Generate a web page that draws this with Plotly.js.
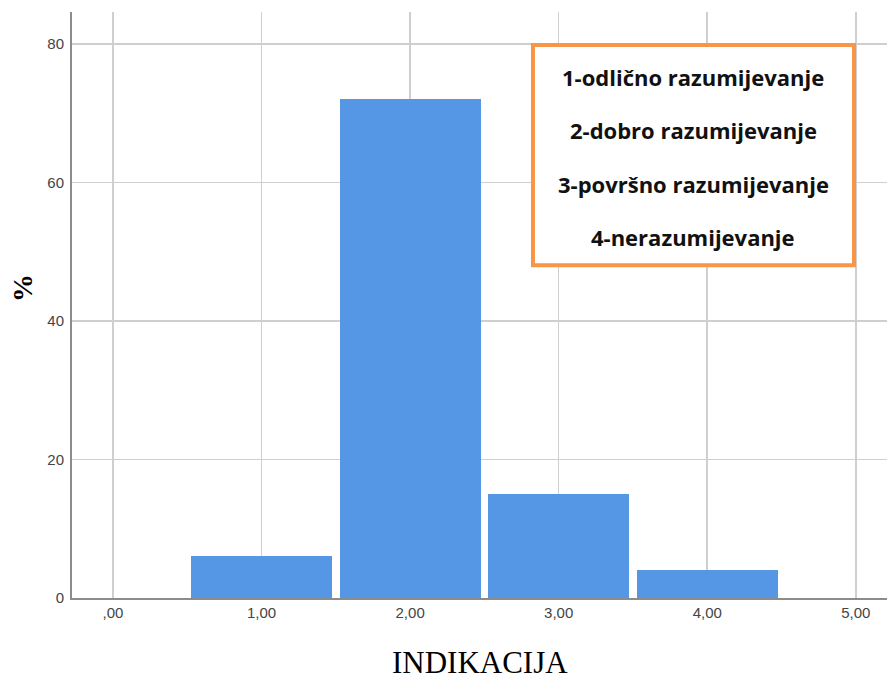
<!DOCTYPE html>
<html>
<head>
<meta charset="utf-8">
<script src="https://cdn.plot.ly/plotly-3.0.1.min.js"></script>
<style>html,body{margin:0;padding:0;background:#fff;}#chart{width:887px;height:681px;}</style>
</head>
<body>
<div id="chart"></div>
<script>
const categories = [1, 2, 3, 4];
const percentValues = [6, 72, 15, 4];
const xTickVals = [0, 1, 2, 3, 4, 5];
const xTickText = [',00', '1,00', '2,00', '3,00', '4,00', '5,00'];
const yTickVals = [0, 20, 40, 60, 80];
const legendLines = ['1-odlično razumijevanje', '2-dobro razumijevanje', '3-površno razumijevanje', '4-nerazumijevanje'];
const xTitle = 'INDIKACIJA';
const yTitle = '%';

const trace = {
  type: 'bar',
  x: categories,
  y: percentValues,
  width: 0.95,
  marker: {color: '#5596E5', line: {width: 0}},
  hoverinfo: 'x+y'
};

const lineY = [0.889, 0.7986, 0.7065, 0.616];
const annotations = legendLines.map((t, i) => ({
  xref: 'paper', yref: 'paper', x: 0.762, y: lineY[i],
  xanchor: 'center', yanchor: 'middle', showarrow: false,
  text: '<b>' + t + '</b>',
  font: {family: 'Open Sans, Lato, sans-serif', size: 22, color: '#111'}
}));
annotations.push({
  xref: 'paper', yref: 'paper', x: 0.501, y: -0.1100,
  xanchor: 'center', yanchor: 'middle', showarrow: false,
  text: xTitle,
  font: {family: 'Liberation Serif, Times New Roman, serif', size: 31, color: '#000'}
});
annotations.push({
  xref: 'paper', yref: 'paper', x: -0.0613, y: 0.529,
  xanchor: 'center', yanchor: 'middle', showarrow: false, textangle: -90,
  text: '<b>' + yTitle + '</b>',
  font: {family: 'Liberation Serif, Times New Roman, serif', size: 28, color: '#000'}
});

const layout = {
  width: 887, height: 681,
  margin: {l: 72, r: 0, t: 12, b: 83},
  paper_bgcolor: '#fff', plot_bgcolor: '#fff',
  showlegend: false,
  bargap: 0,
  xaxis: {
    range: [-0.276, 5.21],
    tickvals: xTickVals, ticktext: xTickText,
    showgrid: true, gridcolor: '#cfcfcf', gridwidth: 1.5,
    zeroline: false,
    showline: true, linecolor: '#8c8c8c', linewidth: 2,
    ticks: '', ticklen: 0,
    tickfont: {family: 'Liberation Sans, Arial, sans-serif', size: 15, color: '#444'}
  },
  yaxis: {
    range: [0, 84.6],
    tickvals: yTickVals,
    showgrid: true, gridcolor: '#cfcfcf', gridwidth: 1.5,
    zeroline: false,
    showline: true, linecolor: '#8c8c8c', linewidth: 2,
    ticks: '', ticklen: 0, ticklabelstandoff: 3,
    tickfont: {family: 'Liberation Sans, Arial, sans-serif', size: 15, color: '#444'}
  },
  shapes: [{
    type: 'rect', xref: 'paper', yref: 'paper',
    x0: 0.5656, x1: 0.9595, y0: 0.568, y1: 0.9437,
    line: {color: '#F79646', width: 4}, fillcolor: '#ffffff', layer: 'above'
  }],
  annotations: annotations
};

Plotly.newPlot('chart', [trace], layout, {displayModeBar: false, staticPlot: true});
</script>
</body>
</html>
